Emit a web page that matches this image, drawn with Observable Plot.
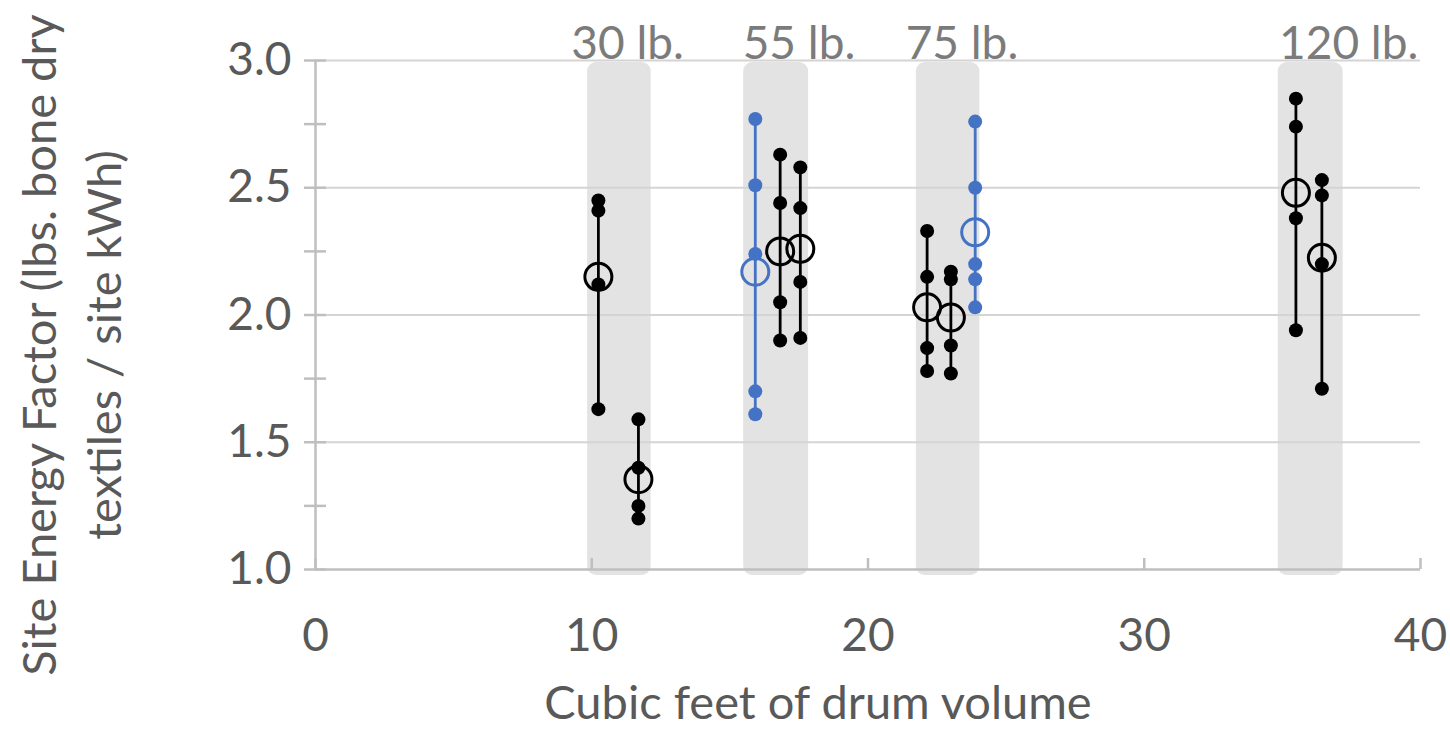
<!DOCTYPE html>
<html>
<head>
<meta charset="utf-8">
<script src="https://cdn.jsdelivr.net/npm/d3@7"></script>
<script src="https://cdn.jsdelivr.net/npm/@observablehq/plot@0.6"></script>
<style>
  html, body { margin: 0; padding: 0; background: #ffffff; }
  #chart svg { display: block; }
</style>
</head>
<body>
<div id="chart"></div>
<script>
// ---- Data ----
const capacityLabels = ["30 lb.", "55 lb.", "75 lb.", "120 lb."];
const bandStart = [9.85, 15.5, 21.75, 34.85];
const bandEnd = [12.15, 17.85, 24.05, 37.2];
const labelX = [11.3, 17.5, 23.4, 37.4];

const seriesX = [10.24, 11.69, 15.92, 16.82, 17.55, 22.14, 23.0, 23.88, 35.49, 36.43];
const seriesGroup = ["black", "black", "blue", "black", "black", "black", "black", "blue", "black", "black"];
const seriesValues = [
  [2.45, 2.41, 2.12, 1.63],
  [1.59, 1.40, 1.25, 1.20],
  [2.77, 2.51, 2.24, 1.70, 1.61],
  [2.63, 2.44, 2.05, 1.90],
  [2.58, 2.42, 2.13, 1.91],
  [2.33, 2.15, 1.87, 1.78],
  [2.17, 2.14, 1.88, 1.77],
  [2.76, 2.50, 2.20, 2.14, 2.03],
  [2.85, 2.74, 2.38, 1.94],
  [2.53, 2.47, 2.20, 1.71]
];
const seriesMean = [2.15, 1.355, 2.17, 2.25, 2.26, 2.03, 1.99, 2.325, 2.48, 2.225];

const xTicks = [0, 10, 20, 30, 40];
const yTicks = [1.0, 1.5, 2.0, 2.5, 3.0];
const yMinorTicks = [1.0, 1.25, 1.5, 1.75, 2.0, 2.25, 2.5, 2.75, 3.0];

const xTitle = "Cubic feet of drum volume";
const yTitle = "Site Energy Factor (lbs. bone dry\ntextiles / site kWh)";

// ---- Tables built from the arrays ----
const bands = capacityLabels.map((label, i) => ({label, x1: bandStart[i], x2: bandEnd[i], lx: labelX[i]}));
const points = [];
const ranges = [];
const means = [];
seriesX.forEach((x, i) => {
  seriesValues[i].forEach(v => points.push({x, y: v, g: seriesGroup[i]}));
  ranges.push({x, y1: d3.min(seriesValues[i]), y2: d3.max(seriesValues[i]), g: seriesGroup[i]});
  means.push({x, y: seriesMean[i], g: seriesGroup[i]});
});

const colorOf = {black: "#000000", blue: "#4472c4"};
const FONT = "Lato, 'Open Sans', sans-serif";
const textColor = "#595959";

const chart = Plot.plot({
  width: 1450,
  height: 734,
  marginTop: 60,
  marginRight: 30,
  marginBottom: 165,
  marginLeft: 315,
  style: {fontFamily: FONT, background: "#ffffff", color: textColor},
  x: {domain: [0, 40], axis: null},
  y: {domain: [1, 3], axis: null},
  marks: [
    // grey capacity bands
    Plot.rect(bands, {x1: "x1", x2: "x2", y1: 1, y2: 3, fill: "#e3e3e3", rx: 9, insetTop: 2, insetBottom: -6}),
    // gridlines
    Plot.ruleY(yTicks.filter(d => d > 1), {x1: 0, x2: 40, stroke: "#d4d4d4", strokeWidth: 2}),
    // axes lines
    Plot.ruleY([1], {x1: 0, x2: 40, stroke: "#bfbfbf", strokeWidth: 2.5}),
    Plot.ruleX([0], {y1: 1, y2: 3, stroke: "#bfbfbf", strokeWidth: 2.5}),
    // y tick marks crossing the axis
    Plot.ruleY(yMinorTicks, {x1: 0, x2: 0, insetLeft: -11, insetRight: -11, stroke: "#bfbfbf", strokeWidth: 2.5}),
    // x tick marks (inward)
    Plot.ruleX(xTicks, {y1: 1, y2: 1, insetTop: -11, stroke: "#bfbfbf", strokeWidth: 2.5}),
    // tick labels
    Plot.text(yTicks, {x: 0, y: d => d, text: d => d3.format(".1f")(d), dx: -24, textAnchor: "end", fontSize: 46, fill: textColor}),
    Plot.text(xTicks, {x: d => d, y: 1, text: d => String(d), dy: 67, fontSize: 46, fill: textColor}),
    // capacity labels
    Plot.text(bands, {x: "lx", text: "label", frameAnchor: "top", lineAnchor: "middle", dy: -16, fontSize: 46, fill: "#7b7b7b"}),
    // axis titles
    Plot.text([xTitle], {frameAnchor: "bottom", text: d => d, lineAnchor: "middle", dx: -50, dy: 134, fontSize: 47, fill: textColor}),
    Plot.text([yTitle], {frameAnchor: "left", text: d => d, textAnchor: "middle", lineAnchor: "middle", rotate: -90, dx: -248, dy: 30, fontSize: 47, lineHeight: 1.38, fill: textColor}),
    // range lines
    Plot.ruleX(ranges, {x: "x", y1: "y1", y2: "y2", stroke: d => colorOf[d.g], strokeWidth: 2.8}),
    // individual values
    Plot.dot(points, {x: "x", y: "y", r: 7, fill: d => colorOf[d.g], stroke: "none"}),
    // mean open circles
    Plot.dot(means, {x: "x", y: "y", r: 13.5, fill: "none", stroke: d => colorOf[d.g], strokeWidth: 3})
  ]
});

document.getElementById("chart").appendChild(chart);
</script>
</body>
</html>
